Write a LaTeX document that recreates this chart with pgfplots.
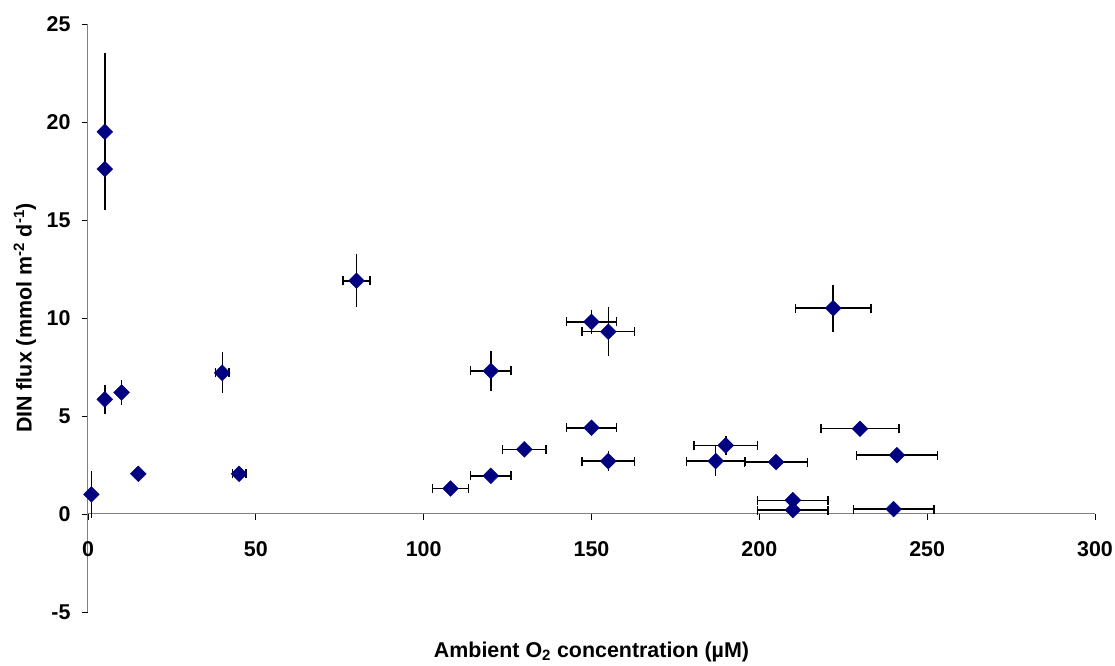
\documentclass[border=0pt]{standalone}
\usepackage{fontspec}
\setmainfont{Liberation Sans}
\usepackage{pgfplots}
\pgfplotsset{compat=1.18}
\usepackage{pgfplotstable}
\definecolor{navy}{RGB}{0,0,128}
\definecolor{axgray}{RGB}{128,128,128}

\pgfplotstableread{
x y ex ey
1 1.0 0 1.2
5 19.5 0 4.0
5 17.6 0 2.1
5 5.85 0 0.75
10 6.2 0 0.65
15 2.05 0 0
40 7.2 2 1.05
45 2.05 2 0
80 11.9 4 1.35
108 1.3 5.4 0
120 1.95 6 0
120 7.3 6 1.0
130 3.3 6.5 0
150 9.8 7.5 0.6
150 4.4 7.5 0
155 9.3 7.8 1.25
155 2.7 7.8 0.5
187 2.7 8.7 0.75
190 3.5 9.5 0.5
205 2.65 9.4 0
210 0.7 10.5 0
210 0.2 10.5 0
222 10.5 11.2 1.2
230 4.35 11.6 0
240 0.25 12 0
241 3.0 12.1 0
}\data

\begin{document}
\begin{tikzpicture}
\begin{axis}[
 at={(0,0)}, anchor=south west, scale only axis,
 width=1007bp, height=588bp,
 xmin=0, xmax=300, ymin=-5, ymax=25,
 axis x line*=middle, axis y line*=left,
 axis line style={axgray, line width=1bp},
 xtick={0,50,...,300}, ytick={-5,0,...,25},
 xticklabels={0,50,100,150,200,250,300},
 yticklabels={-5,0,5,10,15,20,25},
 tick align=outside, major tick length=6bp,
 tick style={black, line width=0.8bp},
 minor tick num=0,
 hide obscured x ticks=false, hide obscured y ticks=false,
 ticklabel style={font=\fontsize{21.5}{24}\selectfont\bfseries},
 xticklabel style={yshift=-18bp},
 yticklabel style={xshift=-8bp},
 xlabel={Ambient O\textsubscript{2} concentration (µM)},
 ylabel={DIN flux (mmol m\textsuperscript{-2} d\textsuperscript{-1})},
 label style={font=\fontsize{21.5}{24}\selectfont\bfseries},
 xlabel style={at={(axis description cs:0.5,-0.068)}, anchor=center},
 ylabel style={at={(axis description cs:-0.0626,0.5)}, anchor=center},
 clip=false,
]
\addplot[only marks, mark=none, forget plot,
  error bars/.cd, y dir=both, y explicit, error mark=none,
  error bar style={draw=black, solid, line width=1.5bp}]
  table[x=x, y=y, y error=ey]{\data};
\addplot[only marks, mark=none, forget plot,
  error bars/.cd, x dir=both, x explicit, error mark=|,
  error bar style={draw=black, solid, line width=1.5bp},
  error mark options={draw=black, solid, line width=1.5bp, mark size=4.5bp}]
  table[x=x, y=y, x error=ex]{\data};
\addplot[only marks, mark=square*, mark size=5.6bp,
  mark options={rotate=45, fill=navy, draw=navy}]
  table[x=x, y=y]{\data};
\end{axis}
\pgfresetboundingbox
\path (-88bp,-54bp) rectangle (1027bp,612bp);
\end{tikzpicture}
\end{document}
